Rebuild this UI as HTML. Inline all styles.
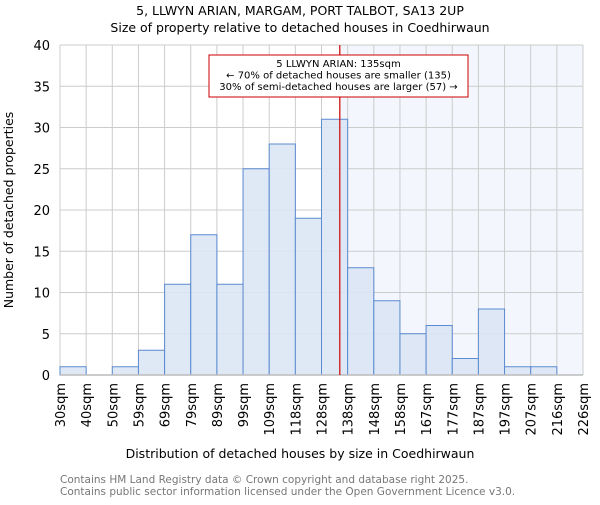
<!DOCTYPE html>
<html><head><meta charset="utf-8"><style>
body{margin:0;background:#fff;}
svg text{font-family:"DejaVu Sans","Liberation Sans",sans-serif;}
</style></head><body>
<svg id="chart" width="600" height="500" xmlns="http://www.w3.org/2000/svg">
<text x="300" y="15" text-anchor="middle" font-size="12.5" fill="#000">5, LLWYN ARIAN, MARGAM, PORT TALBOT, SA13 2UP</text>
<text x="300" y="32" text-anchor="middle" font-size="12.5" fill="#000">Size of property relative to detached houses in Coedhirwaun</text>
<g id="plot"></g>
<text transform="translate(13,210) rotate(-90)" text-anchor="middle" font-size="12.5" fill="#000">Number of detached properties</text>
<text x="300" y="458" text-anchor="middle" font-size="12.5" fill="#000">Distribution of detached houses by size in Coedhirwaun</text>
<text x="60" y="483" font-size="10.5" fill="#777">Contains HM Land Registry data © Crown copyright and database right 2025.</text>
<text x="60" y="495" font-size="10.5" fill="#777">Contains public sector information licensed under the Open Government Licence v3.0.</text>
</svg>
<script>
const tickLabels=["30sqm","40sqm","50sqm","59sqm","69sqm","79sqm","89sqm","99sqm","109sqm","118sqm","128sqm","138sqm","148sqm","158sqm","167sqm","177sqm","187sqm","197sqm","207sqm","216sqm","226sqm"];
const counts=[1,0,1,3,11,17,11,25,28,19,31,13,9,5,6,2,8,1,1,0];
const yTicks=[0,5,10,15,20,25,30,35,40];
const markerBin=10.7;
const NS="http://www.w3.org/2000/svg";
const L=60,R=583,T=45,B=375,yMax=40;
const bw=(R-L)/counts.length;
const xs=i=>L+i*bw;
const ys=v=>B-(B-T)*v/yMax;
const g=document.getElementById('plot');
function mk(t,a){const e=document.createElementNS(NS,t);for(const k in a)e.setAttribute(k,a[k]);g.appendChild(e);return e;}
const mx=xs(markerBin);
let e=mk('rect',{x:mx,y:T,width:R-mx,height:B-T,fill:'#f3f6fc'});


yTicks.forEach(v=>{
 let l=mk('line',{x1:L,x2:R,y1:ys(v),y2:ys(v),stroke:'#ccc','stroke-width':1});
 
 
 let t=mk('text',{x:L-10,y:ys(v)+5,'text-anchor':'end','font-size':13,fill:'#000'});
 t.textContent=v;
 
 
});
tickLabels.forEach((s,i)=>{
 let l=mk('line',{x1:xs(i),x2:xs(i),y1:T,y2:B,stroke:'#ccc','stroke-width':1});
 
 
 let t=mk('text',{transform:`translate(${xs(i)+5},${B+8}) rotate(-90)`,'text-anchor':'end','font-size':13,fill:'#000'});
 t.textContent=s;
 
 
});
counts.forEach((v,i)=>{
 if(v<=0)return;
 let r=mk('rect',{x:xs(i),y:ys(v),width:bw,height:B-ys(v),fill:'#dce6f4',stroke:'#5b8bd0','stroke-width':1,'fill-opacity':0.9});
 
 
});
let ax=mk('line',{x1:L,x2:R,y1:B,y2:B,stroke:'#bbb','stroke-width':1.5});


let ml=mk('line',{x1:mx,x2:mx,y1:T,y2:B,stroke:'#c00','stroke-width':1.2});


let box=mk('rect',{x:209,y:55,width:259,height:42,fill:'#fff',stroke:'#c00','stroke-width':1});


["5 LLWYN ARIAN: 135sqm","← 70% of detached houses are smaller (135)","30% of semi-detached houses are larger (57) →"].forEach((s,i)=>{
 let t=mk('text',{x:338.5,y:67+i*11.5,'text-anchor':'middle','font-size':10,fill:'#000'});
 t.textContent=s;
 
 
});
</script>
</body></html>
